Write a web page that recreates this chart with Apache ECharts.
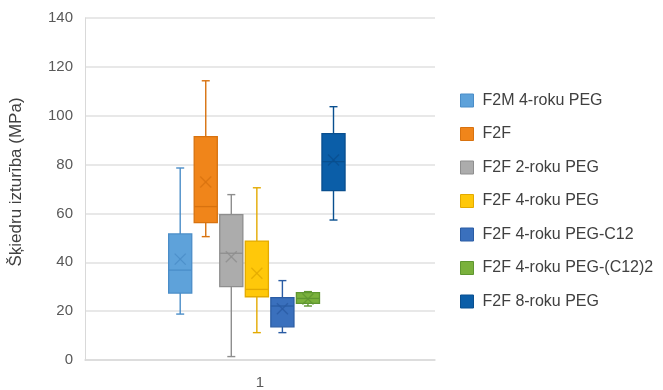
<!DOCTYPE html>
<html>
<head>
<meta charset="utf-8">
<script src="https://cdn.jsdelivr.net/npm/echarts@6/dist/echarts.min.js"></script>
<style>
html,body{margin:0;padding:0;background:#fff;}
#c{width:663px;height:390px;}
</style>
</head>
<body>
<div id="c"></div>
<script>
const categories = ['1'];
const seriesNames = ['F2M 4-roku PEG','F2F','F2F 2-roku PEG','F2F 4-roku PEG','F2F 4-roku PEG-C12','F2F 4-roku PEG-(C12)2','F2F 8-roku PEG'];
const whiskerLow  = [18.8, 50.5, 1.4, 11.2, 11.2, 22.1, 57.3];
const q1Values    = [27.4, 56.2, 30.0, 25.9, 13.6, 23.2, 69.3];
const medians     = [36.8, 62.8, 43.7, 28.9, 22.1, 25.2, 81.2];
const q3Values    = [51.6, 91.4, 59.5, 48.7, 25.5, 27.6, 92.7];
const whiskerHigh = [78.6, 114.3, 67.7, 70.5, 32.5, 28.0, 103.7];
const means       = [41.3, 72.9, 42.3, 35.5, 21.0, 25.0, 81.9];
const yTicks = [0, 20, 40, 60, 80, 100, 120, 140];

const fills   = ['#5ea2da','#f0851a','#acacac','#ffc80a','#3a70bd','#7ab13c','#0b5ea8'];
const borders = ['#4a8dc8','#d8720f','#8e8e8e','#e3aa00','#2a5ca4','#5f9630','#094f8f'];

const n = seriesNames.length;
function makeRender(idx){
  return function(params, api){
    const cat = api.value(0);
    const lo = api.value(1), q1 = api.value(2), md = api.value(3), q3 = api.value(4), hi = api.value(5), mn = api.value(6);
    const band = api.size([1,0])[0];
    const step = band * 0.073;
    const bw = band * 0.066;
    const cx = api.coord([cat, 0])[0] - band * 0.009 + (idx - (n-1)/2) * step;
    const yLo = api.coord([cat, lo])[1], yQ1 = api.coord([cat, q1])[1], yMd = api.coord([cat, md])[1];
    const yQ3 = api.coord([cat, q3])[1], yHi = api.coord([cat, hi])[1], yMn = api.coord([cat, mn])[1];
    const cap = 4, xs = 5.5;
    const lineStyle = {stroke: borders[idx], lineWidth: 1.4};
    return {
      type: 'group',
      children: [
        {type:'line', shape:{x1:cx, y1:yHi, x2:cx, y2:yQ3}, style:lineStyle},
        {type:'line', shape:{x1:cx, y1:yQ1, x2:cx, y2:yLo}, style:lineStyle},
        {type:'line', shape:{x1:cx-cap, y1:yHi, x2:cx+cap, y2:yHi}, style:lineStyle},
        {type:'line', shape:{x1:cx-cap, y1:yLo, x2:cx+cap, y2:yLo}, style:lineStyle},
        {type:'rect', shape:{x:cx-bw/2, y:yQ3, width:bw, height:yQ1-yQ3}, style:{fill:fills[idx], stroke:borders[idx], lineWidth:1.3}},
        {type:'line', shape:{x1:cx-bw/2, y1:yMd, x2:cx+bw/2, y2:yMd}, style:{stroke:borders[idx], lineWidth:1.3}},
        {type:'line', shape:{x1:cx-xs, y1:yMn-xs, x2:cx+xs, y2:yMn+xs}, style:{stroke:borders[idx], lineWidth:1.3, opacity:0.85}},
        {type:'line', shape:{x1:cx-xs, y1:yMn+xs, x2:cx+xs, y2:yMn-xs}, style:{stroke:borders[idx], lineWidth:1.3, opacity:0.85}}
      ]
    };
  };
}

const series = seriesNames.map(function(name, i){
  return {
    type: 'custom',
    name: name,
    renderItem: makeRender(i),
    itemStyle: {color: fills[i]},
    encode: {x: 0, y: [1,2,3,4,5]},
    data: [[0, whiskerLow[i], q1Values[i], medians[i], q3Values[i], whiskerHigh[i], means[i]]]
  };
});

const chart = echarts.init(document.getElementById('c'), null, {renderer:'canvas'});
chart.setOption({
  animation: false,
  textStyle: {fontFamily: 'Liberation Sans, Arial, sans-serif'},
  grid: {left: 83, right: 228, top: 18, bottom: 30, containLabel: false},
  legend: {
    orient: 'vertical',
    left: 460,
    top: 92.5,
    padding: 0,
    itemWidth: 13,
    itemHeight: 13,
    itemGap: 17.5,
    icon: 'rect',
    textStyle: {fontSize: 16, lineHeight: 16, color: '#404040', fontFamily: 'Liberation Sans, Arial, sans-serif', padding: [0,0,0,4]},
    data: seriesNames.map(function(nm, i){
      return {name: nm, itemStyle: {color: fills[i], borderColor: borders[i], borderWidth: 1}};
    })
  },
  xAxis: {
    type: 'category',
    data: categories,
    axisLine: {show: true, lineStyle: {color: '#d9d9d9', width: 1.5}},
    axisTick: {show: false},
    axisLabel: {color: '#595959', fontSize: 15, margin: 15},
    splitLine: {show: false}
  },
  yAxis: {
    type: 'value',
    min: yTicks[0],
    max: yTicks[yTicks.length-1],
    interval: 20,
    name: 'Šķiedru izturība (MPa)',
    nameLocation: 'middle',
    nameGap: 60,
    nameRotate: 90,
    nameTextStyle: {color: '#404040', fontSize: 17, padding: [0,0,0,14]},
    axisLine: {show: true, lineStyle: {color: '#d9d9d9', width: 1}},
    axisTick: {show: false},
    axisLabel: {color: '#595959', fontSize: 15, margin: 12},
    splitLine: {show: true, lineStyle: {color: '#e0e0e0', width: 1.5}}
  },
  series: series
});
</script>
</body>
</html>
